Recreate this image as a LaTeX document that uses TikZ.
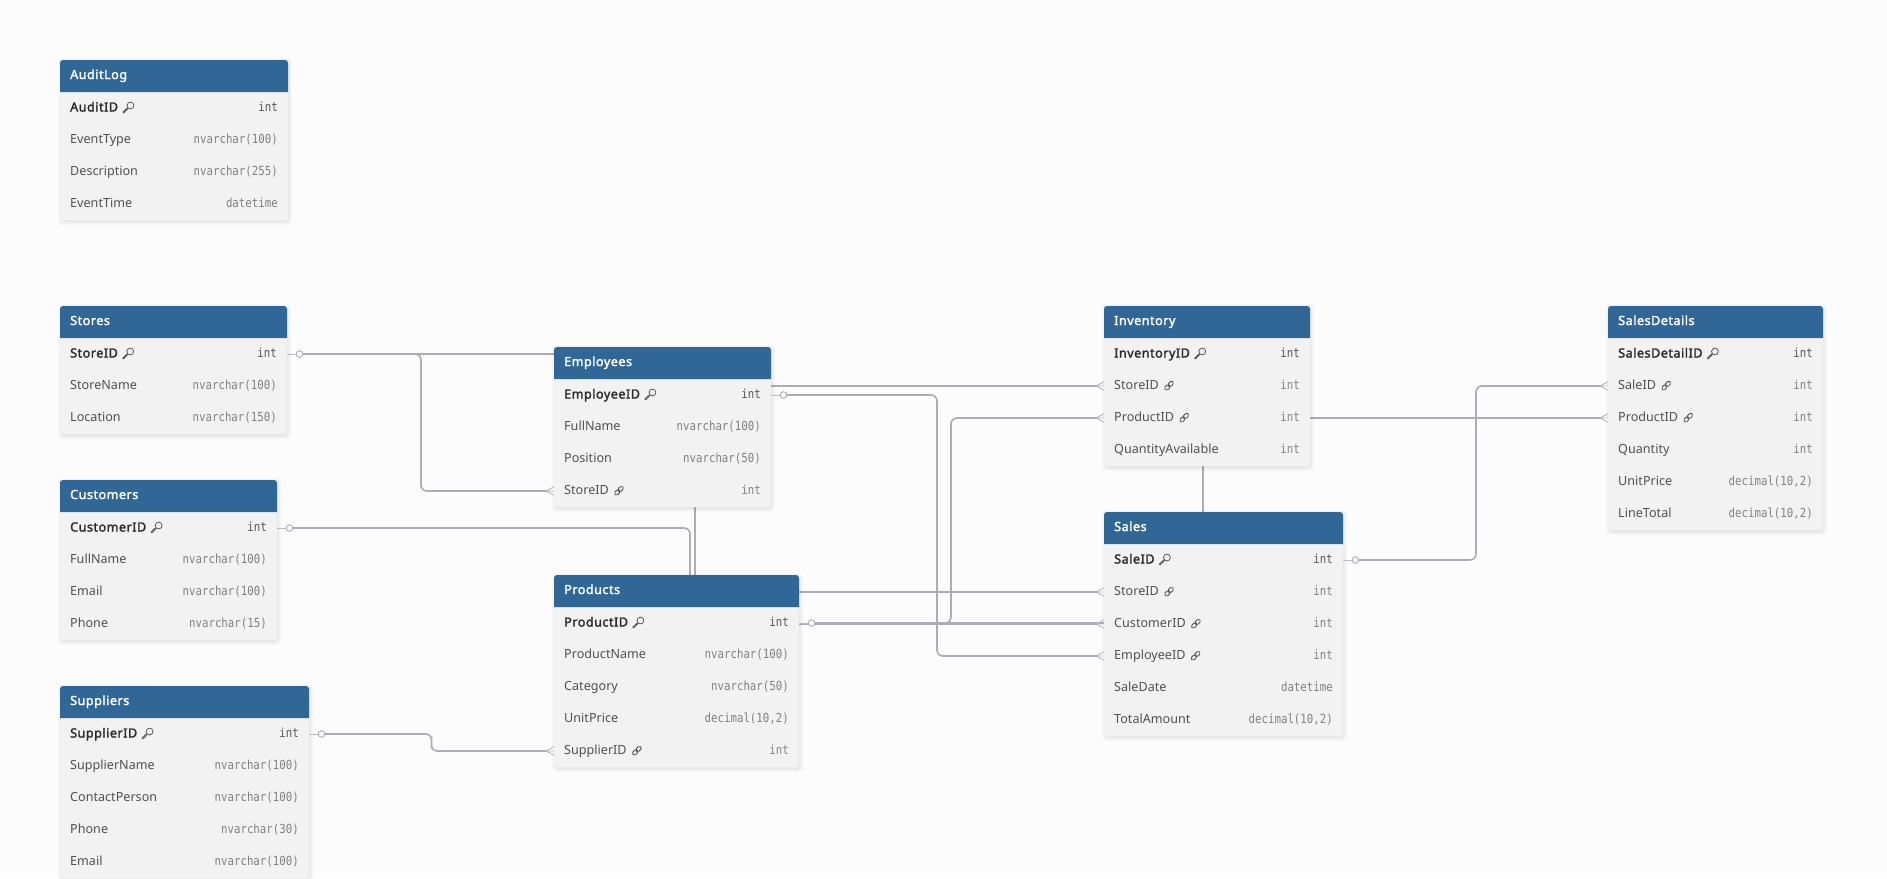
\documentclass[tikz,border=0pt]{standalone}
\usepackage{fontspec}
\setmainfont[BoldFont={Noto Sans},BoldFeatures={FakeBold=2,LetterSpace=4}]{Noto Sans}
\newfontfamily\monof[FakeStretch=0.86]{DejaVu Sans Mono}
\usetikzlibrary{calc}
\definecolor{pagebg}{HTML}{FCFCFC}
\definecolor{headcol}{HTML}{306796}
\definecolor{bodycol}{HTML}{F2F2F2}
\definecolor{linecol}{HTML}{ABACB5}
\definecolor{footcol}{HTML}{B9BAC2}
\definecolor{namedark}{HTML}{2B2B2B}
\definecolor{namegray}{HTML}{505050}
\definecolor{typegray}{HTML}{808080}
\definecolor{typedark}{HTML}{555555}
\pgfdeclarelayer{pagelayer}
\pgfdeclarelayer{connlayer}
\pgfsetlayers{pagelayer,connlayer,main}
\tikzset{
  tablebody/.style={fill=bodycol,rounded corners=3pt,inner sep=0pt,outer sep=0pt,anchor=north west},
  rowbox/.style={inner sep=0pt,outer sep=0pt,minimum height=32pt,anchor=north west},
  titletext/.style={anchor=base west,inner sep=0pt,text=white,font=\fontsize{12.6}{14}\selectfont\bfseries},
  rownamek/.style={anchor=base west,inner sep=0pt,text=namedark,font=\fontsize{12.6}{14}\selectfont\bfseries},
  rownamef/.style={anchor=base west,inner sep=0pt,text=namegray,font=\fontsize{12.6}{14}\selectfont},
  rownamen/.style={rownamef},
  rowtypek/.style={anchor=base east,inner sep=0pt,text=typedark,font=\fontsize{12.5}{14}\monof},
  rowtypef/.style={anchor=base east,inner sep=0pt,text=typegray,font=\fontsize{12.5}{14}\monof},
  rowtypen/.style={rowtypef},
  conn/.style={draw=linecol,line width=1.6pt,rounded corners=6pt,shorten >=7pt,shorten <=12pt},
  icok/.pic={
    \draw[namegray,line width=.75pt,fill=none] (2.2,-2.2) circle (3.4);
    \draw[namegray,line width=.7pt] (-0.2,0.9) -- (-4.6,5.2) -- (-5.4,4.4) -- (-0.9,0) ;
  },
  icof/.pic={
    \draw[namegray,line width=.85pt,rotate=45,rounded corners=1.7pt] (-5.5,-1.9) rectangle (0.6,1.9);
    \draw[namegray,line width=.85pt,rotate=45,rounded corners=1.7pt] (-0.6,-1.9) rectangle (5.5,1.9);
  },
  icon/.pic={},
  onestart/.pic={
    \draw[footcol,line width=1pt] (0,0) -- (9,0);
    \draw[linecol,line width=.9pt,fill=pagebg] (12.5,0) circle (3.3);
  },
  manyend/.pic={
    \draw[footcol,line width=.9pt] (-8,0) -- (0,-4.2) (-8,0) -- (0,0) (-8,0) -- (0,4.2);
  },
}
% name, x, y, width, number of rows, title, rows
\newcommand{\ertable}[7]{%
  \foreach \shd in {4,3,2,1}{%
    \fill[black,opacity=.018,rounded corners=4pt] ({#2-\shd+2},{#3-\shd+2}) rectangle ({#2+#4+\shd},{#3+32+#5*32+\shd+1});%
  }%
  \node[tablebody,minimum width=#4pt,minimum height={(32+#5*32)*1pt}] (#1) at (#2,#3) {};%
  \fill[headcol] (#1.north west) ++(0,32) [rounded corners=3pt] -- (#1.north west) -- (#1.north east) [sharp corners] -- ++(0,32) -- cycle;%
  \node[titletext] (#1-title) at ({#2+10},{#3+16+3}) {#6};%
  \foreach \fname/\ftype/\fkind [count=\rowi] in {#7}{%
    \node[rowbox,minimum width=#4pt] (#1-\rowi) at (#2,{#3+32+(\rowi-1)*32}) {};%
    \node[rowname\fkind] (#1-\rowi-n) at ($(#1-\rowi.west)+(10,3.5)$) {\fname};%
    \node[rowtype\fkind] (#1-\rowi-t) at ($(#1-\rowi.east)+(-10,3.5)$) {\ftype};%
    \pic at ($(#1-\rowi-n.base east)+(10,-3.8)$) {ico\fkind};%
  }%
}
\begin{document}
\begin{tikzpicture}[x=1pt,y=-1pt]
\useasboundingbox (0,0) rectangle (1887,878);
\begin{pgfonlayer}{pagelayer}
\fill[pagebg] (0,0) rectangle (1887,878);
\end{pgfonlayer}

\ertable{AuditLog}{60}{60}{228}{4}{AuditLog}{AuditID/int/k,EventType/nvarchar(100)/n,Description/nvarchar(255)/n,EventTime/datetime/n}
\ertable{Stores}{60}{306}{227}{3}{Stores}{StoreID/int/k,StoreName/nvarchar(100)/n,Location/nvarchar(150)/n}
\ertable{Customers}{60}{480}{217}{4}{Customers}{CustomerID/int/k,FullName/nvarchar(100)/n,Email/nvarchar(100)/n,Phone/nvarchar(15)/n}
\ertable{Suppliers}{60}{686}{249}{5}{Suppliers}{SupplierID/int/k,SupplierName/nvarchar(100)/n,ContactPerson/nvarchar(100)/n,Phone/nvarchar(30)/n,Email/nvarchar(100)/n}
\ertable{Employees}{554}{347}{217}{4}{Employees}{EmployeeID/int/k,FullName/nvarchar(100)/n,Position/nvarchar(50)/n,StoreID/int/f}
\ertable{Products}{554}{575}{245}{5}{Products}{ProductID/int/k,ProductName/nvarchar(100)/n,Category/nvarchar(50)/n,UnitPrice/{decimal(10,2)}/n,SupplierID/int/f}
\ertable{Inventory}{1104}{306}{206}{4}{Inventory}{InventoryID/int/k,StoreID/int/f,ProductID/int/f,QuantityAvailable/int/n}
\ertable{Sales}{1104}{512}{239}{6}{Sales}{SaleID/int/k,StoreID/int/f,CustomerID/int/f,EmployeeID/int/f,SaleDate/datetime/n,TotalAmount/{decimal(10,2)}/n}
\ertable{SalesDetails}{1608}{306}{215}{6}{SalesDetails}{SalesDetailID/int/k,SaleID/int/f,ProductID/int/f,Quantity/int/n,UnitPrice/{decimal(10,2)}/n,LineTotal/{decimal(10,2)}/n}

\coordinate (bendStoreEmp) at (421,400);
\coordinate (bendStoreInv) at (640,370);
\coordinate (bendStoreSale) at (695,450);
\coordinate (bendCustSale) at (690,600);
\coordinate (bendEmpSale) at (937,500);
\coordinate (bendProdInv) at (951,500);
\coordinate (bendProdDet) at (1203,500);
\coordinate (bendSaleDet) at (1476,470);

\begin{pgfonlayer}{connlayer}
\path[conn] (Stores-1.east) -| (bendStoreEmp) |- (Employees-4.west);
\path[conn] (Stores-1.east) -| (bendStoreInv) |- (Inventory-2.west);
\path[conn] (Stores-1.east) -| (bendStoreSale) |- (Sales-2.west);
\path[conn] (Customers-1.east) -| (bendCustSale) |- (Sales-3.west);
\path[conn] (Employees-1.east) -| (bendEmpSale) |- (Sales-4.west);
\path[conn] (Products-1.east) -| (bendProdInv) |- (Inventory-3.west);
\path[conn] (Products-1.east) -| (bendProdDet) |- (SalesDetails-3.west);
\path[conn] (Sales-1.east) -| (bendSaleDet) |- (SalesDetails-2.west);
\coordinate (bendSuppProd) at ($(Suppliers-1.east)!.5!(Products-5.west)$);
\path[conn] (Suppliers-1.east) -| ([xshift=0pt]bendSuppProd) |- (Products-5.west);
\end{pgfonlayer}

\pic at (Stores-1.east) {onestart};
\pic at (Customers-1.east) {onestart};
\pic at (Employees-1.east) {onestart};
\pic at (Products-1.east) {onestart};
\pic at (Sales-1.east) {onestart};
\pic at (Suppliers-1.east) {onestart};
\pic at (Employees-4.west) {manyend};
\pic at (Inventory-2.west) {manyend};
\pic at (Inventory-3.west) {manyend};
\pic at (Sales-2.west) {manyend};
\pic at (Sales-3.west) {manyend};
\pic at (Sales-4.west) {manyend};
\pic at (SalesDetails-2.west) {manyend};
\pic at (SalesDetails-3.west) {manyend};
\pic at (Products-5.west) {manyend};
\end{tikzpicture}
\end{document}
